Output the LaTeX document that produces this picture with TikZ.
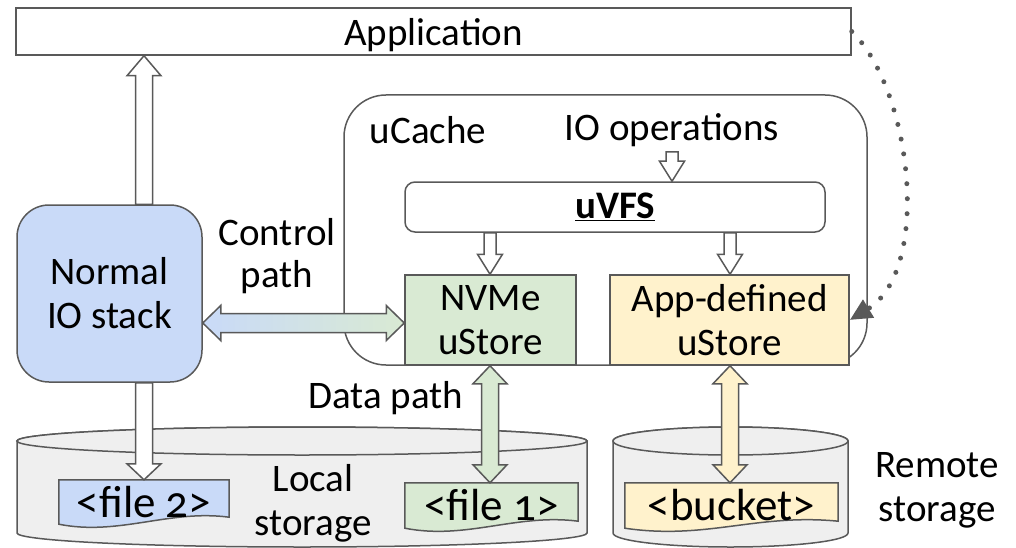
\documentclass[tikz,border=0pt]{standalone}
\usepackage{fontspec}
\setmainfont{Carlito}[Numbers=OldStyle]
\usetikzlibrary{calc,arrows.meta}

\definecolor{edge}{HTML}{595959}
\definecolor{blueF}{HTML}{C9DAF8}
\definecolor{greenF}{HTML}{D9EAD3}
\definecolor{yellowF}{HTML}{FFF2CC}
\definecolor{grayF}{HTML}{EFEFEF}

\pgfdeclarelayer{back}
\pgfdeclarelayer{mid}
\pgfsetlayers{back,mid,main}

% block arrow with one head: style, tail, tip, half shaft, half head, head length
\newcommand\fatarrow[6]{%
  \path ($(#3)!#6!(#2)$) coordinate (fa-h);
  \draw[#1] ($(#2)!#4!90:(#3)$) -- ($(fa-h)!#4!90:(#3)$) -- ($(fa-h)!#5!90:(#3)$)
    -- (#3) -- ($(fa-h)!#5!-90:(#3)$) -- ($(fa-h)!#4!-90:(#3)$)
    -- ($(#2)!#4!-90:(#3)$) -- cycle;}

% block arrow with two heads
\newcommand\fatboth[6]{%
  \path ($(#2)!#6!(#3)$) coordinate (fa-a) ($(#3)!#6!(#2)$) coordinate (fa-b);
  \draw[#1] (#2) -- ($(fa-a)!#5!90:(#3)$) -- ($(fa-a)!#4!90:(#3)$)
    -- ($(fa-b)!#4!90:(#3)$) -- ($(fa-b)!#5!90:(#3)$) -- (#3)
    -- ($(fa-b)!#5!-90:(#3)$) -- ($(fa-b)!#4!-90:(#3)$)
    -- ($(fa-a)!#4!-90:(#3)$) -- ($(fa-a)!#5!-90:(#3)$) -- cycle;}

% cylinder: left x, right x, top y, bottom y, half height of the ellipses
\newcommand\drum[5]{%
  \path[drumstyle] (#1,#3) -- (#1,#4) arc (180:0:{(#2-#1)/2} and #5)
    -- (#2,#3) arc (0:-180:{(#2-#1)/2} and #5) -- cycle;
  \path[drumstyle] ({(#1+#2)/2},#3) ellipse ({(#2-#1)/2} and #5);}

% paper sheet with a wavy lower edge around a node
\newcommand\sheet[2]{%
  \path[draw=edge, line width=1.5pt, fill=#2] (#1.north west) -- (#1.north east)
    -- ($(#1.south east)+(0,-7)$) .. controls ($(#1.south)+(25,-15)$) and ($(#1.south)+(-25,12)$)
    .. (#1.south west) -- cycle;}

\tikzset{
  txt/.style={font=\fontsize{39}{44}\selectfont, inner sep=0pt, align=center},
  filetxt/.style={font=\fontsize{45}{50}\selectfont, inner sep=0pt, align=center},
  box/.style={txt, draw=edge, line width=1.5pt},
  drumstyle/.style={draw=edge, line width=1.5pt, fill=grayF},
  hollow/.style={draw=edge, line width=1.5pt, fill=white, line join=miter},
  dotline/.style={draw=edge, line width=5pt, line cap=round,
    dash pattern=on 0pt off 15pt, -{Triangle[length=22pt,width=20pt]}},
}

\begin{document}
\begin{tikzpicture}[x=1pt, y=-1pt]
\useasboundingbox (0,0) rectangle (1016,548);

% storage drums
\begin{pgfonlayer}{back}
  \drum{17}{587}{441}{533}{14}
  \drum{613}{848}{441}{533}{14}
\end{pgfonlayer}

% top-level blocks
\node[box, text depth=0pt, minimum width=835pt, minimum height=47pt] (app) at (433.5,31.5) {Application};
\node[box, rounded corners=42pt, minimum width=523pt, minimum height=270pt] (ucache) at (605.5,230) {};
\node[box, rounded corners=10pt, minimum width=420pt, minimum height=50pt,
  font=\fontsize{39}{44}\selectfont\bfseries] (uvfs) at (615,207) {\underline{uVFS}};
\node[box, fill=greenF, minimum width=171pt, minimum height=90pt] (nvme) at (490.5,320) {NVMe\\uStore};
\node[box, fill=yellowF, minimum width=239pt, minimum height=90pt] (appdef) at (729.5,320) {App-defined\\uStore};
\node[box, fill=blueF, rounded corners=32pt, minimum width=185pt, minimum height=177pt] (normal) at (109.5,293.5) {Normal\\IO stack};

% labels
\node[txt] (lblcache) at (428,130) {uCache};
\node[txt] (lblio) at (672,130) {IO operations};
\node[txt, font=\fontsize{39}{42}\selectfont] (lblctl) at (277,256) {Control\\path};
\node[txt] (lbldata) at (386,398) {Data path};
\node[txt] (lbllocal) at (313,503) {Local\\storage};
\node[txt] (lblremote) at (937,490) {Remote\\storage};

% files and bucket
\node[filetxt, minimum width=170pt, minimum height=44pt] (file2) at (144,502) {<file 2>};
\node[filetxt, minimum width=173pt, minimum height=45pt] (file1) at (491.5,505.5) {<file 1>};
\node[filetxt, minimum width=213pt, minimum height=45pt] (bucket) at (731.5,505.5) {<bucket>};
\begin{pgfonlayer}{mid}
  \sheet{file2}{blueF}
  \sheet{file1}{greenF}
  \sheet{bucket}{yellowF}
\end{pgfonlayer}

% arrow guide lines
\coordinate (xL) at (144,0);
\coordinate (xN) at (490,0);
\coordinate (xA) at (730,0);
\coordinate (xI) at (672,0);
\coordinate (yC) at (0,323);
\coordinate (iotail) at (672,152);
\path (normal.north -| xL) coordinate (n-top)
      (app.south -| xL) coordinate (app-in)
      (normal.south -| xL) coordinate (n-bot)
      (file2.north -| xL) coordinate (f2-in)
      (uvfs.north -| xI) coordinate (uvfs-in)
      (uvfs.south -| xN) coordinate (uvfs-n)
      (nvme.north -| xN) coordinate (nvme-in)
      (uvfs.south -| xA) coordinate (uvfs-a)
      (appdef.north -| xA) coordinate (appdef-in)
      (normal.east |- yC) coordinate (ctl-l)
      (nvme.west |- yC) coordinate (ctl-r)
      (nvme.south -| xN) coordinate (nvme-out)
      (file1.north -| xN) coordinate (f1-in)
      (appdef.south -| xA) coordinate (appdef-out)
      (bucket.north -| xA) coordinate (bk-in);

% block arrows
\fatarrow{hollow}{n-top}{app-in}{8.5pt}{17pt}{20pt}
\fatarrow{hollow}{n-bot}{f2-in}{8.5pt}{17pt}{16pt}
\fatarrow{hollow}{iotail}{uvfs-in}{6pt}{12.5pt}{20pt}
\fatarrow{hollow}{uvfs-n}{nvme-in}{6pt}{12.5pt}{20pt}
\fatarrow{hollow}{uvfs-a}{appdef-in}{6pt}{12.5pt}{20pt}
\fatboth{hollow, left color=blueF, right color=greenF}{ctl-l}{ctl-r}{9.5pt}{17.5pt}{18pt}
\fatboth{hollow, fill=greenF}{nvme-out}{f1-in}{8.5pt}{17pt}{18pt}
\fatboth{hollow, fill=yellowF}{appdef-out}{bk-in}{8.5pt}{17pt}{18pt}

% callback from the application
\draw[dotline] (app.east) .. controls (912,90) and (932,270) .. (appdef.east);
\end{tikzpicture}
\end{document}
